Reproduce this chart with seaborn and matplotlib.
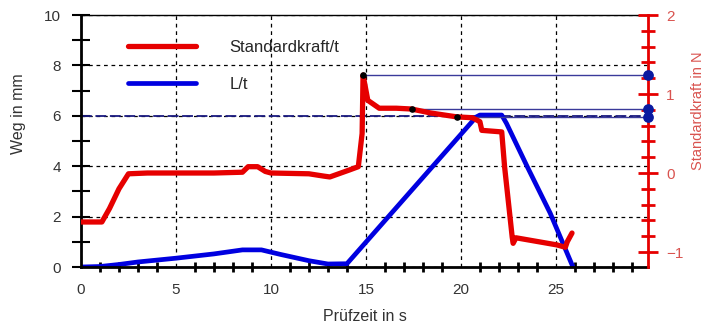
import matplotlib
matplotlib.use("Agg")
import matplotlib.pyplot as plt
from matplotlib.ticker import MultipleLocator
import pandas as pd
import seaborn as sns

# Standardkraft (rechte Achse, N) ueber Pruefzeit
zeit_kraft = [0.0, 1.1, 1.5, 2.0, 2.5, 3.5, 5.0, 7.0, 8.5, 8.8, 9.3, 9.7, 10.0,
              12.0, 12.8, 13.1, 14.15, 14.6, 14.8, 14.85, 15.1, 15.7, 16.6,
              17.4, 18.4, 19.8, 20.6, 21.0, 21.1, 22.15, 22.3, 22.7, 22.75,
              22.9, 25.05, 25.5, 25.6, 25.85]
kraft = [-0.62, -0.62, -0.45, -0.2, -0.01, 0.0, 0.0, 0.0, 0.01, 0.08, 0.08, 0.02, 0.0,
         -0.01, -0.04, -0.05, 0.04, 0.08, 0.5, 1.24, 0.92, 0.82, 0.82,
         0.81, 0.76, 0.71, 0.70, 0.65, 0.54, 0.52, 0.08, -0.81, -0.89,
         -0.82, -0.91, -0.94, -0.87, -0.76]

# Weg (linke Achse, mm) ueber Pruefzeit
zeit_weg = [0.0, 1.0, 2.0, 3.0, 5.0, 7.0, 8.5, 9.5, 10.5, 12.0, 13.0, 14.0,
            20.8, 21.0, 22.15, 22.4, 23.5, 24.7, 25.9]
weg = [0.0, 0.02, 0.1, 0.2, 0.35, 0.52, 0.68, 0.68, 0.5, 0.25, 0.12, 0.13,
       5.95, 6.03, 6.03, 5.7, 3.97, 2.14, 0.0]

# markierte Punkte auf der Kraftkurve
marker_zeit = [14.85, 17.4, 19.8]
marker_kraft = [1.24, 0.81, 0.71]

rot = "#e60000"
blau = "#0000e0"
hellrot = "#d9534f"
grau = "#333333"

sns.set_style("white")
plt.rcParams["font.family"] = ["Liberation Sans", "DejaVu Sans"]
plt.rcParams["font.size"] = 11

fig = plt.figure(figsize=(7.18, 3.29), dpi=100)
ax = fig.add_axes([0.1128, 0.1884, 0.7897, 0.766])
ax2 = ax.twinx()

df_weg = pd.DataFrame({"zeit": zeit_weg, "weg": weg})
df_kraft = pd.DataFrame({"zeit": zeit_kraft, "kraft": kraft})

sns.lineplot(data=df_weg, x="zeit", y="weg", ax=ax, color=blau, lw=3.4,
             sort=False, estimator=None, legend=False,
             solid_joinstyle="round")
sns.lineplot(data=df_kraft, x="zeit", y="kraft", ax=ax2, color=rot, lw=3.8,
             sort=False, estimator=None, legend=False,
             solid_joinstyle="round")

ax.set_xlim(0, 29.85)
ax.set_ylim(0, 10)
ax2.set_ylim(-1.19, 2)

# Gitter
ax.xaxis.set_major_locator(MultipleLocator(5))
ax.xaxis.set_minor_locator(MultipleLocator(1))
ax.yaxis.set_major_locator(MultipleLocator(2))
ax.yaxis.set_minor_locator(MultipleLocator(1))
ax.grid(True, which="major", color="black", ls=(0, (3, 3)), lw=0.9)
ax.axhline(6.0, color="#1a1a80", ls=(0, (6, 2)), lw=1.3, zorder=1.5)

# Markierungen: Linien zur rechten Achse
xr = 29.85
for t, k in zip(marker_zeit, marker_kraft):
    ax2.plot([t, xr], [k, k], color="#3a3a9a", lw=1.0, zorder=1)
ax2.scatter(marker_zeit, marker_kraft, color="black", s=14, zorder=5)
ax2.scatter([xr] * 3, marker_kraft, color="#0a1aa0", s=45, zorder=6, clip_on=False)

ax2.yaxis.set_major_locator(MultipleLocator(1))
ax2.yaxis.set_minor_locator(MultipleLocator(0.2))

# Achsen / Ticks
for s in ["left", "bottom"]:
    ax.spines[s].set_linewidth(2)
    ax.spines[s].set_color("black")
ax.spines["top"].set_linewidth(1)
ax.spines["top"].set_color("black")
ax.spines["right"].set_visible(False)
for s in ["left", "bottom", "top"]:
    ax2.spines[s].set_visible(False)
ax2.spines["right"].set_color(rot)
ax2.spines["right"].set_linewidth(2)

ax.tick_params(axis="x", which="major", direction="inout", length=11, width=2,
               color="black", labelcolor=grau, pad=6)
ax.tick_params(axis="x", which="minor", direction="inout", length=7.5, width=2,
               color="black", bottom=True)
ax.tick_params(axis="y", which="both", direction="inout", length=13, width=1.5,
               color="black", labelcolor=grau, pad=8, left=True)
ax2.tick_params(axis="y", which="major", direction="inout", length=14, width=2,
                color=rot, labelcolor=hellrot, pad=6)
ax2.tick_params(axis="y", which="minor", direction="inout", length=9.5, width=2,
                color=rot)

ax.set_xlabel("Prüfzeit in s", color=grau, labelpad=9, fontsize=11.5)
ax.set_ylabel("Weg in mm", color=grau, fontsize=11.5)
ax2.set_ylabel("Standardkraft in N", color=hellrot, fontsize=10.5)
ax.yaxis.set_label_coords(-0.097, 0.61)
ax2.yaxis.set_label_coords(1.076, 0.62)

# Legende
h_rot = plt.Line2D([], [], color=rot, lw=3.8)
h_blau = plt.Line2D([], [], color=blau, lw=3.4)
ax.legend([h_rot, h_blau], ["Standardkraft/t", "L/t"], loc="upper left",
          bbox_to_anchor=(0.071, 0.927), borderaxespad=0, frameon=False,
          fontsize=12, handlelength=4.1, handletextpad=2.0, labelspacing=1.3)

fig.savefig("out.png", dpi=100)
